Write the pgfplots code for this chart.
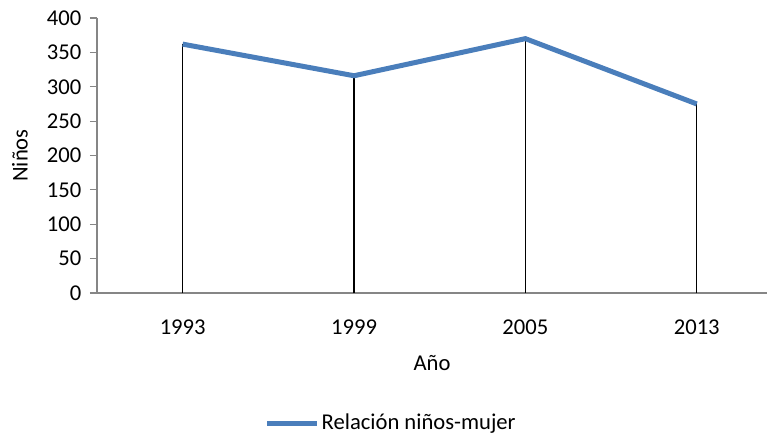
\documentclass[border=0pt]{standalone}
\usepackage{pgfplots}
\pgfplotsset{compat=1.18}
\usepackage{fontspec}
\setmainfont{Carlito}
\definecolor{lineblue}{RGB}{74,126,187}
\definecolor{axgray}{RGB}{134,134,134}
\newcommand{\chfont}{\fontsize{22.7}{26}\selectfont}
\begin{document}
\chfont
\begin{tikzpicture}
\useasboundingbox (-97bp,-143bp) rectangle (671bp,293bp);
\begin{axis}[
  at={(0,0)}, anchor=south west,
  scale only axis, width=670bp, height=275bp,
  xmin=-0.5, xmax=3.41, ymin=0, ymax=400,
  axis lines*=left,
  axis line style={axgray, line width=1.2bp, -},
  xtick={0,1,2,3}, xticklabels={1993,1999,2005,2013},
  ytick={0,50,...,400},
  major x tick style={draw=none},
  major y tick style={axgray, line width=1.2bp},
  tick align=outside, major tick length=7bp,
  /pgf/number format/assume math mode=true,
  ticklabel style={font=\chfont, text=black},
  yticklabel style={xshift=-1bp},
  xticklabel style={yshift=-12bp},
  xlabel={Año}, ylabel={Niños},
  every axis x label/.style={at={(axis description cs:0.5,0)}, anchor=center, yshift=-70bp, font=\chfont},
  every axis y label/.style={at={(axis description cs:0,0.5)}, rotate=90, anchor=center, yshift=77bp, font=\chfont},
  legend style={at={(rel axis cs:0.25,-0.475)}, anchor=west, draw=none, fill=none,
    font=\chfont, inner sep=0pt},
  legend image code/.code={\draw[#1] (0bp,0bp) -- (50bp,0bp);},
  legend cell align=left,
  clip=false,
]
\addplot[ycomb, black, line width=1.2bp, mark=none, forget plot] coordinates {(0,362) (1,316) (2,370) (3,275)};
\addplot[lineblue, line width=5bp, mark=none] coordinates {(0,362) (1,316) (2,370) (3,275)};
\addlegendentry{Relación niños-mujer}
\end{axis}
\end{tikzpicture}
\end{document}
